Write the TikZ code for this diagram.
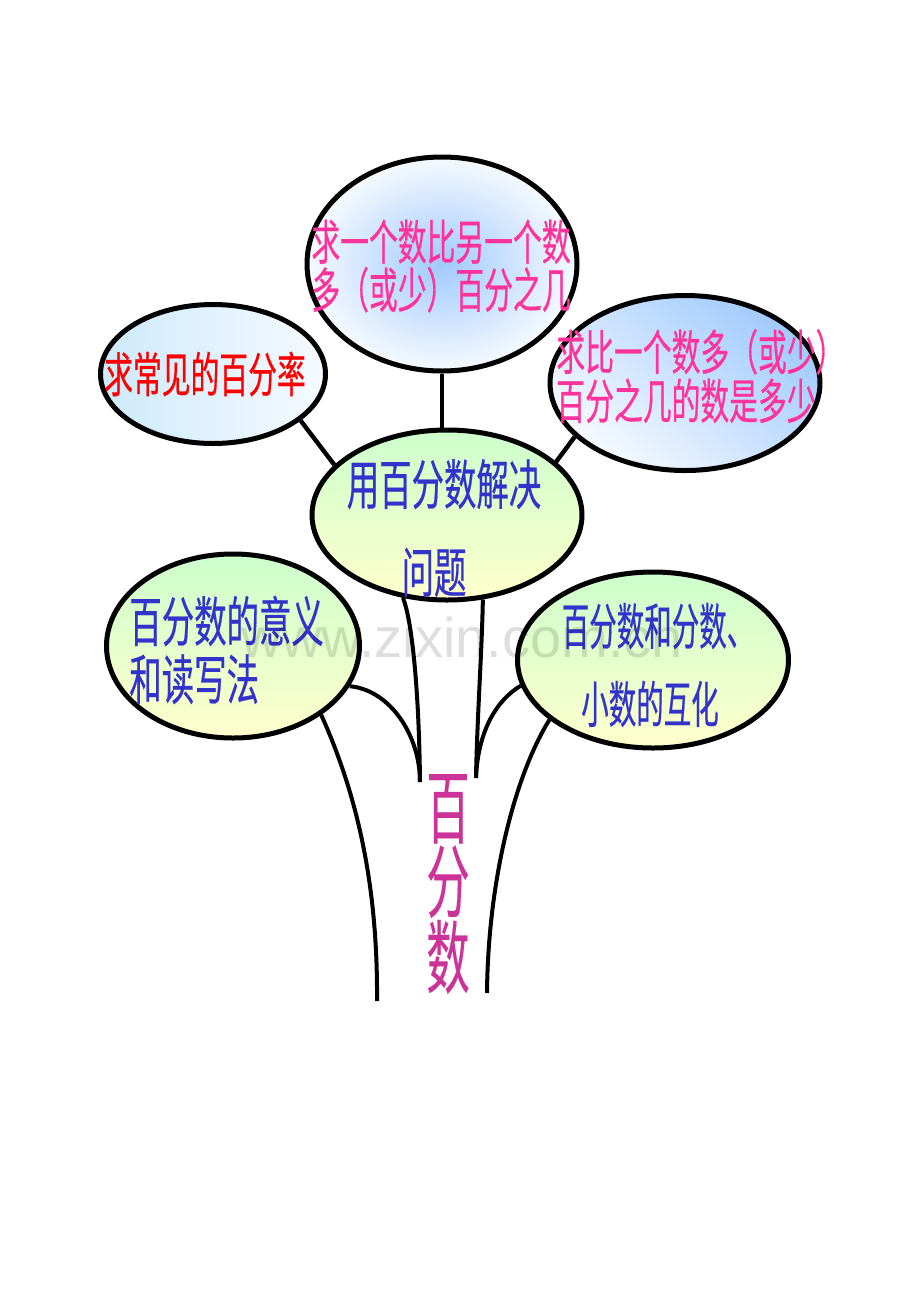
\documentclass[tikz,border=0pt]{standalone}
\usepackage{fontspec}
\setsansfont{Liberation Sans}
\newfontfamily\cjkpink[FakeStretch=0.6, FakeBold=0.4]{Noto Sans CJK SC}
\newfontfamily\cjkblue[FakeStretch=0.6, FakeBold=0.4]{Noto Sans CJK SC}
\newfontfamily\cjknarrow[FakeStretch=0.55, FakeBold=0.4]{Noto Sans CJK SC}
\newfontfamily\cjktrunk[FakeStretch=0.54, FakeBold=0.2]{Noto Sans CJK SC}
\usepackage{tikz}
\usetikzlibrary{shapes.geometric, backgrounds}
\definecolor{pinktxt}{RGB}{255,51,153}
\definecolor{redtxt}{RGB}{255,0,0}
\definecolor{bluetxt}{RGB}{51,51,204}
\definecolor{trunktxt}{RGB}{204,51,153}
\definecolor{skyin}{RGB}{160,202,252}
\definecolor{skyout}{RGB}{246,250,255}
\definecolor{skylight}{RGB}{205,234,252}
\definecolor{leafgreen}{RGB}{204,255,204}
\definecolor{leafyellow}{RGB}{255,255,204}
\tikzset{
  bubble/.style={ellipse, draw=black, line width=2.5pt, inner sep=0pt},
  twig/.style={line width=2.2pt},
  branch/.style={line width=2pt},
  label/.style={inner sep=0pt},
}

\begin{document}
\begin{tikzpicture}[x=0.5pt, y=-0.5pt]
		\useasboundingbox (0,0) rectangle (920,1302);
		% top row
		\node (top) at (442,264) [bubble, inner color=skyin, outer color=skyout, minimum width=135pt, minimum height=107pt]{};
		\node (sm) at (213,374) [bubble, left color=skylight, right color=skyout, minimum width=112.5pt, minimum height=69.5pt]{};
		\node (rt) at (685,383) [bubble, top color=skyin, bottom color=skyout, shading angle=-40, minimum width=135pt, minimum height=87.5pt]{};
		% middle and lower row
		\node (mid) at (447,515) [bubble, top color=leafgreen, bottom color=leafyellow, minimum width=135pt, minimum height=85pt]{};
		\node (bl) at (233,646) [bubble, top color=leafgreen, bottom color=leafyellow, minimum width=126.5pt, minimum height=92pt]{};
		\node (br) at (653,660) [bubble, top color=leafgreen, bottom color=leafyellow, minimum width=135.5pt, minimum height=88pt]{};
		\coordinate (rootL) at (377,1001);
		\coordinate (rootR) at (487,993);
		\coordinate (forkL) at (420,782);
		\coordinate (forkR) at (476,778);
		\begin{scope}[on background layer]
		\draw [twig](top.south)--(top.south |- mid.north);
		\draw [twig](sm.-28)--(mid.156); \draw [twig](rt.-154)--(mid.26);
		\end{scope}
		\draw [branch](bl.-38) .. controls (355,790) and (378,880) .. (rootL);
		\draw [branch](bl.-19) .. controls (390,690) and (420,735) .. (forkL);
		\draw [branch](mid.-118) .. controls (412,620) and (419,690) .. (forkL);
		\draw [branch](mid.-67) .. controls (482,650) and (477,720) .. (forkR);
		\draw [branch](br.-169) .. controls (497,700) and (478,730) .. (forkR);
		\draw [branch](br.-150) .. controls (515,775) and (488,880) .. (rootR);
		% texts
		\node (ttop) at (441,266) [label, align=center, text=pinktxt, font={\cjkpink\fontsize{24}{24}\selectfont}]{求一个数比另一个数\\多（或少）百分之几};
		\node (tsm) at (205,374) [label, text=redtxt, font={\cjkpink\fontsize{24}{24}\selectfont}]{求常见的百分率};
		\node (trt) at (556,376) [label, anchor=west, align=left, text=pinktxt, font={\cjkpink\fontsize{24}{24.5}\selectfont}]{求比一个数多（或少）\\百分之几的数是多少};
		\node (tmid) at (444,528) [label, align=center, text=bluetxt, font={\cjkblue\fontsize{27}{44}\selectfont}]{用百分数解决\\问题\hspace*{10pt}};
		\node (tbl) at (129,650) [label, anchor=west, align=left, text=bluetxt, font={\cjkblue\fontsize{27}{29}\selectfont}]{百分数的意义\\和读写法};
		\node (tbr) at (658,665) [label, align=center, text=bluetxt, font={\cjknarrow\fontsize{25}{39}\selectfont}]{百分数和分数、\\小数的互化\hspace*{8pt}};
		\node (trunk) at (448,884) [label, align=center, text=trunktxt, font={\cjktrunk\fontsize{40}{36}\selectfont}]{百\\分\\数};
		\node (mark) at (462,637) [label, text=black, text opacity=0.13, font={\sffamily\fontsize{28}{30}\selectfont}]{www.zixin.com.cn};
		\end{tikzpicture}
\end{document}
